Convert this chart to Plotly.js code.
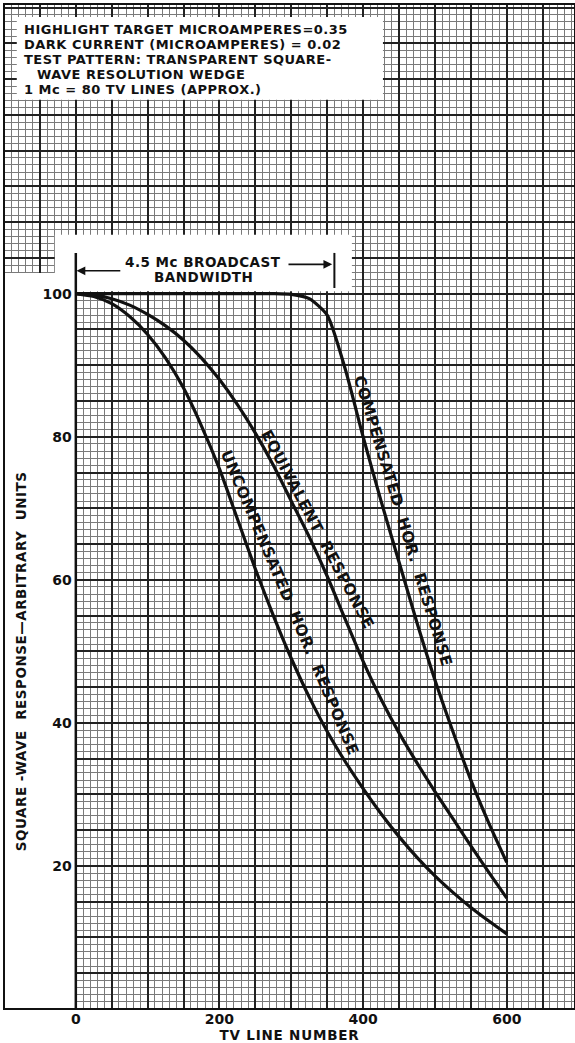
<!DOCTYPE html>
<html><head><meta charset="utf-8">
<script src="https://cdn.plot.ly/plotly-3.0.1.min.js"></script>
<style>
html,body{margin:0;padding:0;background:#fff;}
#chart{width:575px;height:1043px;}
.annotation-text{letter-spacing:0.5px;}
.xtitle{letter-spacing:0.8px;}
</style></head><body><div id="chart"></div>
<script>
// ---- data ----
const tvLines = [0,25,50,75,100,125,150,175,200,225,250,275,300,325,350,375,400,425,450,475,500,525,550,575,600];
const compensatedHor = [100,100,100,100,100,100,100,100,100,100,100,100,99.9,99.3,97.0,89.5,80,71,62.5,54,46,38.8,32,26,20.5];
const equivalentResp = [100,99.8,99.3,98.4,97.1,95.5,93.5,91,88,84.5,80.5,76,71,66,60.5,54.5,48.6,43.3,38.6,34.4,30.4,26.6,22.8,19.1,15.5];
const uncompensatedHor = [100,99.6,98.6,96.8,94.3,91,86.8,81.5,75.5,68.5,61.5,55,49,43.6,38.8,34.6,30.8,27.3,24.1,21.2,18.6,16.3,14.2,12.3,10.5];
const xTickLabels = ['0','200','400','600'];
const yTickLabels = ['20','40','60','80','100'];
const bandwidthEdge = 360; // 4.5 Mc * 80 lines
const infoLines = [
  'HIGHLIGHT TARGET MICROAMPERES=0.35',
  'DARK CURRENT (MICROAMPERES) = 0.02',
  'TEST PATTERN: TRANSPARENT SQUARE-',
  'WAVE RESOLUTION WEDGE',
  '1 Mc = 80 TV LINES (APPROX.)'
];
const curveLabels = ['COMPENSATED  HOR.  RESPONSE','EQUIVALENT  RESPONSE','UNCOMPENSATED  HOR.  RESPONSE'];

// ---- axes tick arrays ----
const xMajor = []; for (let v=-100; v<=695; v+=50) xMajor.push(v);
const yMajor = []; for (let v=0; v<=140; v+=5) yMajor.push(v);
const xText = xMajor.map(v => xTickLabels.includes(String(v)) ? String(v) : '');
const yText = yMajor.map(v => yTickLabels.includes(String(v)) ? String(v) : '');

const lineStyle = {color:'#111', width:3.2, shape:'spline', smoothing:0.6};
const traces = [compensatedHor, equivalentResp, uncompensatedHor].map((ys,i)=>({
  x: tvLines, y: ys, type:'scatter', mode:'lines', line: lineStyle,
  name: curveLabels[i], hoverinfo:'skip'
}));

const F = 'DejaVu Sans, Verdana, sans-serif';
const font = (s) => ({family:F, size:s, color:'#111', weight:'bold'});
const ann = [];
// info block
const infoY = [137.0,134.9,132.8,130.7,128.6];
const infoX = [-75.6,-75.6,-75.6,-57.1,-75.6];
infoLines.forEach((t,i)=>ann.push({x:infoX[i], y:infoY[i], xref:'x', yref:'y', text:t, showarrow:false,
  xanchor:'left', yanchor:'middle', font:font(13)}));
// bandwidth label
ann.push({x:177, y:104.43, xref:'x', yref:'y', text:'4.5 Mc BROADCAST', showarrow:false, font:font(13.5)});
ann.push({x:178, y:102.34, xref:'x', yref:'y', text:'BANDWIDTH', showarrow:false, font:font(13.5)});
// arrows
ann.push({x:1, y:103.2, ax:64, ay:103.2, xref:'x', yref:'y', axref:'x', ayref:'y', text:'', showarrow:true,
  arrowhead:2, arrowsize:1.1, arrowwidth:1.6, arrowcolor:'#111'});
ann.push({x:bandwidthEdge-3, y:104.1, ax:294, ay:104.1, xref:'x', yref:'y', axref:'x', ayref:'y', text:'', showarrow:true,
  arrowhead:2, arrowsize:1.1, arrowwidth:1.6, arrowcolor:'#111'});
// curve labels
const labPos = [[455,68.2,73],[337,67.0,62],[298,56.8,67]];
curveLabels.forEach((t,i)=>ann.push({x:labPos[i][0], y:labPos[i][1], xref:'x', yref:'y', text:t, showarrow:false,
  textangle:labPos[i][2], font:font(15.5)}));
// y title
ann.push({x:-75.2, y:48.6, xref:'x', yref:'y', text:'SQUARE -WAVE  RESPONSE—ARBITRARY  UNITS', showarrow:false,
  textangle:-90, font:font(13.5)});

const shapes = [
  {type:'rect', xref:'x', yref:'y', x0:-110, x1:-0.2, y0:-2, y1:102.9, fillcolor:'#fff', line:{width:0}, layer:'between'},
  {type:'rect', xref:'x', yref:'y', x0:-29.2, x1:384.4, y0:100.35, y1:108.25, fillcolor:'#fff', line:{width:0}, layer:'between'},
  {type:'rect', xref:'x', yref:'y', x0:-82.2, x1:427.6, y0:127.1, y1:138.7, fillcolor:'#fff', line:{width:0}, layer:'between'},
  {type:'line', xref:'x', yref:'y', x0:0, x1:0, y0:0, y1:105.7, line:{color:'#111', width:2.5}, layer:'between'},
  {type:'line', xref:'x', yref:'y', x0:bandwidthEdge, x1:bandwidthEdge, y0:100.8, y1:105.7, line:{color:'#111', width:2}, layer:'between'},
  {type:'rect', xref:'paper', yref:'paper', x0:0, x1:1, y0:0, y1:1, line:{color:'#111', width:2}, layer:'above'}
];

const layout = {
  width:575, height:1043,
  margin:{l:4, r:0, t:4, b:34},
  paper_bgcolor:'#fff', plot_bgcolor:'#fff',
  showlegend:false,
  font:font(14),
  xaxis:{range:[-100,695], tickmode:'array', tickvals:xMajor, ticktext:xText, ticks:'',
    showgrid:true, gridcolor:'#222', gridwidth:2, zeroline:false, showline:false,
    minor:{dtick:10, tick0:0, showgrid:true, gridcolor:'#7a7a7a', gridwidth:1, ticks:''},
    tickfont:font(14),
    title:{text:'TV LINE NUMBER', standoff:2, font:font(13.5)},
    automargin:false, fixedrange:true},
  yaxis:{range:[0,140.5], tickmode:'array', tickvals:yMajor, ticktext:yText, ticks:'',
    anchor:'free', position:0.1257, ticklabelstandoff:4,
    showgrid:true, gridcolor:'#222', gridwidth:2, zeroline:false, showline:false,
    minor:{dtick:1, tick0:0, showgrid:true, gridcolor:'#7a7a7a', gridwidth:1, ticks:''},
    tickfont:font(14), automargin:false, fixedrange:true},
  annotations: ann,
  shapes: shapes
};

Plotly.newPlot('chart', traces, layout, {displayModeBar:false, staticPlot:true});
</script></body></html>
